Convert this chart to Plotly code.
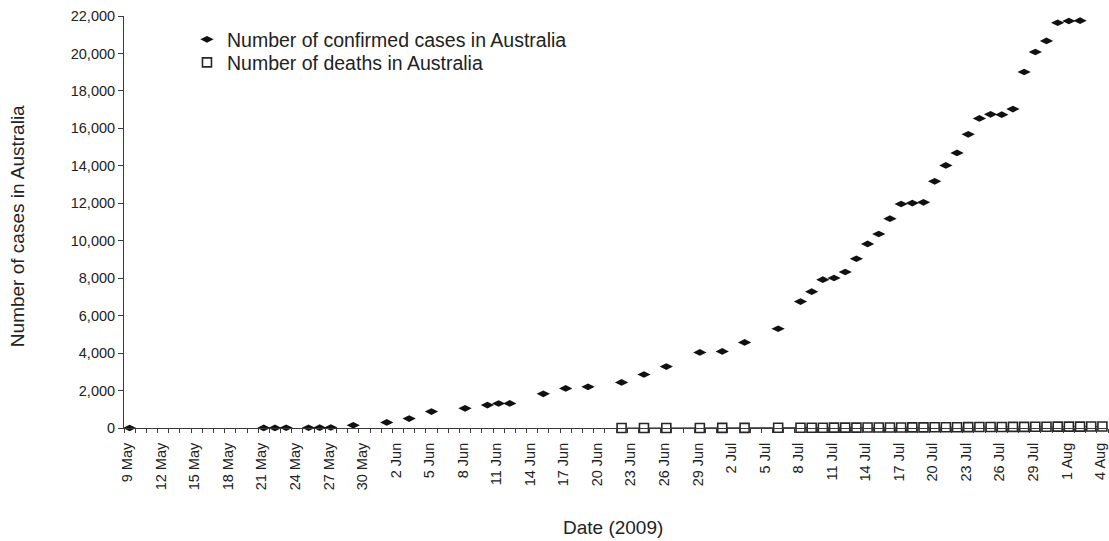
import plotly.graph_objects as go

# ---- data ----
case_dates = [
    "2009-05-09", "2009-05-21", "2009-05-22", "2009-05-23", "2009-05-25", "2009-05-26",
    "2009-05-27", "2009-05-29", "2009-06-01", "2009-06-03", "2009-06-05", "2009-06-08",
    "2009-06-10", "2009-06-11", "2009-06-12", "2009-06-15", "2009-06-17", "2009-06-19",
    "2009-06-22", "2009-06-24", "2009-06-26", "2009-06-29", "2009-07-01", "2009-07-03",
    "2009-07-06", "2009-07-08", "2009-07-09", "2009-07-10", "2009-07-11", "2009-07-12",
    "2009-07-13", "2009-07-14", "2009-07-15", "2009-07-16", "2009-07-17", "2009-07-18",
    "2009-07-19", "2009-07-20", "2009-07-21", "2009-07-22", "2009-07-23", "2009-07-24",
    "2009-07-25", "2009-07-26", "2009-07-27", "2009-07-28", "2009-07-29", "2009-07-30",
    "2009-07-31", "2009-08-01", "2009-08-02",
]
case_values = [
    1, 3, 6, 12, 15, 19,
    29, 147, 297, 501, 876, 1051,
    1224, 1307, 1314, 1823, 2112, 2199,
    2436, 2857, 3280, 4038, 4090, 4568,
    5298, 6750, 7280, 7920, 8010, 8330,
    9040, 9830, 10360, 11180, 11960, 12010,
    12050, 13170, 14020, 14690, 15680, 16530,
    16750, 16730, 17030, 19010, 20080, 20670,
    21640, 21735, 21750,
]

death_dates = [
    "2009-06-22", "2009-06-24", "2009-06-26", "2009-06-29", "2009-07-01", "2009-07-03",
    "2009-07-06", "2009-07-08", "2009-07-09", "2009-07-10", "2009-07-11", "2009-07-12",
    "2009-07-13", "2009-07-14", "2009-07-15", "2009-07-16", "2009-07-17", "2009-07-18",
    "2009-07-19", "2009-07-20", "2009-07-21", "2009-07-22", "2009-07-23", "2009-07-24",
    "2009-07-25", "2009-07-26", "2009-07-27", "2009-07-28", "2009-07-29", "2009-07-30",
    "2009-07-31", "2009-08-01", "2009-08-02", "2009-08-03", "2009-08-04",
]
death_values = [
    1, 1, 2, 3, 5, 7,
    10, 14, 16, 17, 19, 20,
    21, 23, 26, 28, 30, 32,
    35, 38, 41, 44, 47, 51,
    54, 56, 59, 62, 65, 68,
    71, 73, 76, 78, 80,
]

tick_dates = [
    "2009-05-09", "2009-05-12", "2009-05-15", "2009-05-18", "2009-05-21", "2009-05-24",
    "2009-05-27", "2009-05-30", "2009-06-02", "2009-06-05", "2009-06-08", "2009-06-11",
    "2009-06-14", "2009-06-17", "2009-06-20", "2009-06-23", "2009-06-26", "2009-06-29",
    "2009-07-02", "2009-07-05", "2009-07-08", "2009-07-11", "2009-07-14", "2009-07-17",
    "2009-07-20", "2009-07-23", "2009-07-26", "2009-07-29", "2009-08-01", "2009-08-04",
]
tick_labels = [
    "9 May", "12 May", "15 May", "18 May", "21 May", "24 May",
    "27 May", "30 May", "2 Jun", "5 Jun", "8 Jun", "11 Jun",
    "14 Jun", "17 Jun", "20 Jun", "23 Jun", "26 Jun", "29 Jun",
    "2 Jul", "5 Jul", "8 Jul", "11 Jul", "14 Jul", "17 Jul",
    "20 Jul", "23 Jul", "26 Jul", "29 Jul", "1 Aug", "4 Aug",
]

FONT = "Liberation Sans, Arial, sans-serif"
INK = "#222222"
AXIS = "#3a3a3a"

fig = go.Figure()
# connecting line of the deaths series (no legend entry)
fig.add_trace(go.Scatter(
    x=death_dates, y=death_values, mode="lines",
    line=dict(color="#444444", width=1),
    showlegend=False, hoverinfo="skip", cliponaxis=False,
))
fig.add_trace(go.Scatter(
    x=case_dates, y=case_values, mode="markers",
    name="Number of confirmed cases in Australia",
    marker=dict(symbol="diamond-wide", size=9.5, color="#111111"),
    cliponaxis=False, legend="legend",
))
fig.add_trace(go.Scatter(
    x=death_dates, y=death_values, mode="markers",
    name="Number of deaths in Australia",
    marker=dict(symbol="square", size=9, color="white",
                line=dict(color="#262626", width=1.6)),
    cliponaxis=False, legend="legend2",
))

leg_common = dict(
    xanchor="left", yanchor="top",
    font=dict(size=19.5, family=FONT, color=INK),
    bgcolor="rgba(0,0,0,0)", borderwidth=0,
)

fig.update_layout(
    width=1109, height=541,
    margin=dict(l=124, r=1, t=16, b=113, autoexpand=False),
    paper_bgcolor="white", plot_bgcolor="white",
    font=dict(family=FONT, color=INK, size=14.5),
    showlegend=True,
    legend=dict(x=0.064, y=0.990, **leg_common),
    legend2=dict(x=0.064, y=0.934, **leg_common),
    xaxis=dict(
        type="date", automargin=False,
        range=["2009-05-08 12:00", "2009-08-04 12:00"],
        tickmode="array", tickvals=tick_dates, ticktext=tick_labels,
        tickangle=-90, ticks="", showgrid=False, zeroline=False,
        showline=True, linecolor=AXIS, linewidth=1,
        tickfont=dict(size=14.5, family=FONT, color=INK),
        minor=dict(tick0="2009-05-08 12:00", dtick=86400000, ticks="outside",
                   ticklen=4, tickwidth=1, tickcolor=AXIS, showgrid=False),
        ticklabelstandoff=8,
        ticklabelshift=-2,
        ticklabeloverflow="allow",
    ),
    yaxis=dict(
        automargin=False,
        range=[0, 22000], dtick=2000, tickformat=",",
        ticks="outside", ticklen=5, tickwidth=1, tickcolor=AXIS,
        showline=True, linecolor=AXIS, linewidth=1,
        showgrid=False, zeroline=False,
        tickfont=dict(size=14.5, family=FONT, color=INK),
    ),
    annotations=[
        dict(text="Number of cases in Australia", xref="paper", yref="paper",
             x=-0.1087, y=0.49, xanchor="center", yanchor="middle",
             textangle=-90, showarrow=False,
             font=dict(size=19, family=FONT, color=INK)),
        dict(text="Date (2009)", xref="paper", yref="paper",
             x=(613 - 124) / 984, y=(428 - 527) / 412, xanchor="center", yanchor="middle",
             showarrow=False, font=dict(size=19, family=FONT, color=INK)),
    ],
)

fig.write_html(
    "out.html",
    config={"displayModeBar": False},
    post_script="document.body.style.margin='0';document.body.style.overflow='hidden';",
)
